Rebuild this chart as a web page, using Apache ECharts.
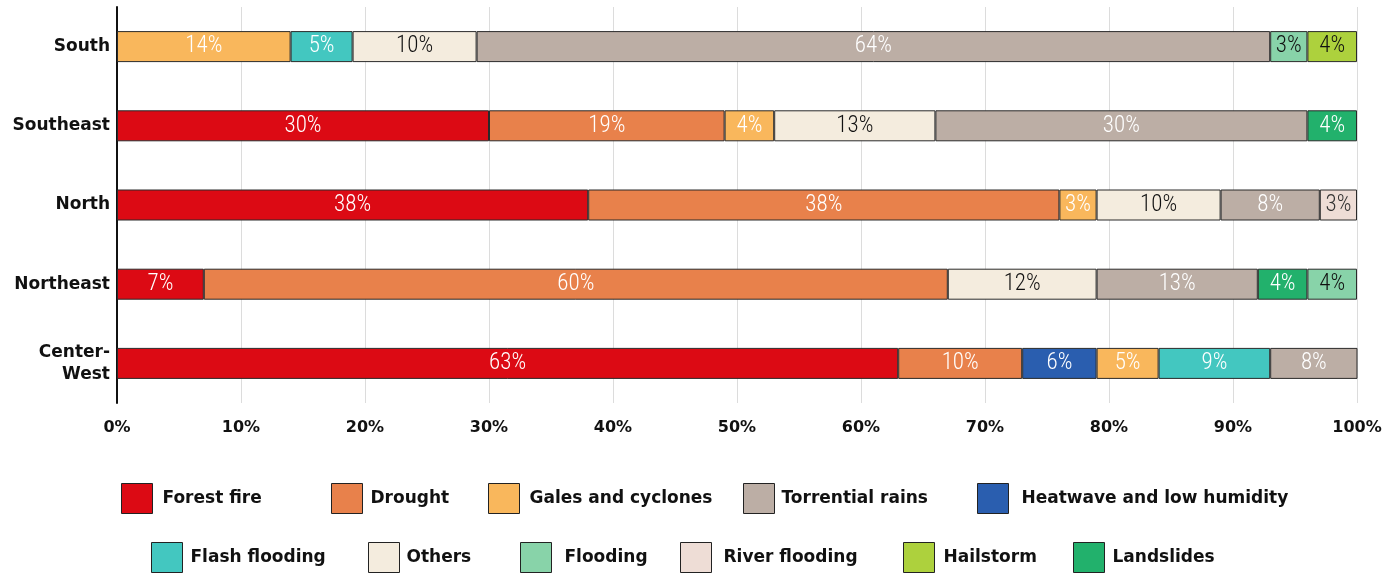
<!DOCTYPE html>
<html>
<head>
<meta charset="utf-8">
<script src="https://cdn.jsdelivr.net/npm/echarts@6/dist/echarts.min.js"></script>
<style>
  html, body { margin: 0; padding: 0; background: #ffffff; }
  #chart { width: 1385px; height: 574px; }
</style>
</head>
<body>
<div id="chart"></div>
<script>
// Regions, top to bottom
const regions = ['South', 'Southeast', 'North', 'Northeast', 'Center-\nWest'];

// Share of disasters by type (%), one value per region in the order above
const forestFire    = [null, 30, 38, 7, 63];
const drought       = [null, 19, 38, 60, 10];
const heatwave      = [null, null, null, null, 6];
const gales         = [14, 4, 3, null, 5];
const flashFlooding = [5, null, null, null, 9];
const others        = [10, 13, 10, 12, null];
const torrential    = [64, 30, 8, 13, 8];
const riverFlooding = [null, null, 3, null, null];
const landslides    = [null, 4, null, 4, null];
const flooding      = [3, null, null, 4, null];
const hailstorm     = [4, null, null, null, null];

const xTicks = { min: 0, max: 100, step: 10 };

// Stack order, colours and label colours
const seriesDefs = [
  { name: 'Forest fire',               data: forestFire,    color: '#DC0A14', text: '#ffffff' },
  { name: 'Drought',                   data: drought,       color: '#E8814B', text: '#ffffff' },
  { name: 'Heatwave and low humidity', data: heatwave,      color: '#2A5EAF', text: '#ffffff' },
  { name: 'Gales and cyclones',        data: gales,         color: '#F9B75C', text: '#ffffff' },
  { name: 'Flash flooding',            data: flashFlooding, color: '#43C7C0', text: '#ffffff' },
  { name: 'Others',                    data: others,        color: '#F4ECDE', text: '#111111' },
  { name: 'Torrential rains',          data: torrential,    color: '#BCAEA5', text: '#ffffff' },
  { name: 'River flooding',            data: riverFlooding, color: '#EEDDD6', text: '#333333' },
  { name: 'Landslides',                data: landslides,    color: '#22B16C', text: '#ffffff' },
  { name: 'Flooding',                  data: flooding,      color: '#88D3A9', text: '#111111' },
  { name: 'Hailstorm',                 data: hailstorm,     color: '#ADD13D', text: '#111111' }
];

// Legend placement: [name, icon left, top, gap before text]
const legendSlots = [
  ['Forest fire', 121, 483, 5],
  ['Drought', 331, 483, 3],
  ['Gales and cyclones', 488, 483, 5],
  ['Torrential rains', 743, 483, 2],
  ['Heatwave and low humidity', 977, 483, 8],
  ['Flash flooding', 151, 542, 3],
  ['Others', 368, 542, 2],
  ['Flooding', 520, 542, 8],
  ['River flooding', 680, 542, 7],
  ['Hailstorm', 903, 542, 4],
  ['Landslides', 1073, 542, 3]
];

const boldFont = '"DejaVu Sans", "Noto Sans", sans-serif';
const narrowFont = '"Roboto Condensed", "Roboto", sans-serif';

const chart = echarts.init(document.getElementById('chart'), null, { renderer: 'canvas' });

chart.setOption({
  animation: false,
  backgroundColor: '#ffffff',
  grid: { left: 117, right: 28, top: 7, bottom: 171, containLabel: false },
  xAxis: {
    type: 'value',
    min: xTicks.min,
    max: xTicks.max,
    interval: xTicks.step,
    axisLine: { show: false },
    axisTick: { show: false },
    splitLine: { show: true, lineStyle: { color: '#dcdcdc', width: 1 } },
    axisLabel: {
      formatter: '{value}%',
      fontFamily: boldFont,
      fontWeight: 'bold',
      fontSize: 16,
      color: '#111111',
      margin: 17
    }
  },
  yAxis: {
    type: 'category',
    data: regions,
    inverse: true,
    axisLine: { show: true, lineStyle: { color: '#111111', width: 2 } },
    axisTick: { show: false },
    splitLine: { show: false },
    axisLabel: {
      fontFamily: boldFont,
      fontWeight: 'bold',
      fontSize: 17,
      lineHeight: 22,
      color: '#111111',
      margin: 7,
      align: 'right'
    }
  },
  legend: legendSlots.map(([name, left, top, gap]) => ({
    data: [{ name: name, icon: 'rect' }],
    left: left,
    top: top,
    padding: 0,
    itemWidth: 31,
    itemHeight: 30,
    selectedMode: false,
    itemStyle: { borderColor: '#222222', borderWidth: 1 },
    textStyle: {
      fontFamily: boldFont,
      fontWeight: 'bold',
      fontSize: 17,
      color: '#111111',
      padding: [0, 0, 0, gap]
    }
  })),
  series: seriesDefs.map(s => ({
    name: s.name,
    type: 'bar',
    stack: 'share',
    data: s.data,
    barWidth: 31,
    itemStyle: { color: s.color, borderColor: '#2a2a2a', borderWidth: 1 },
    label: {
      show: true,
      position: 'inside',
      formatter: '{c}%',
      fontFamily: narrowFont,
      fontWeight: 300,
      fontSize: 23,
      padding: [4, 0, 0, 0],
      color: s.text
    },
    emphasis: { disabled: true }
  }))
});
</script>
</body>
</html>
